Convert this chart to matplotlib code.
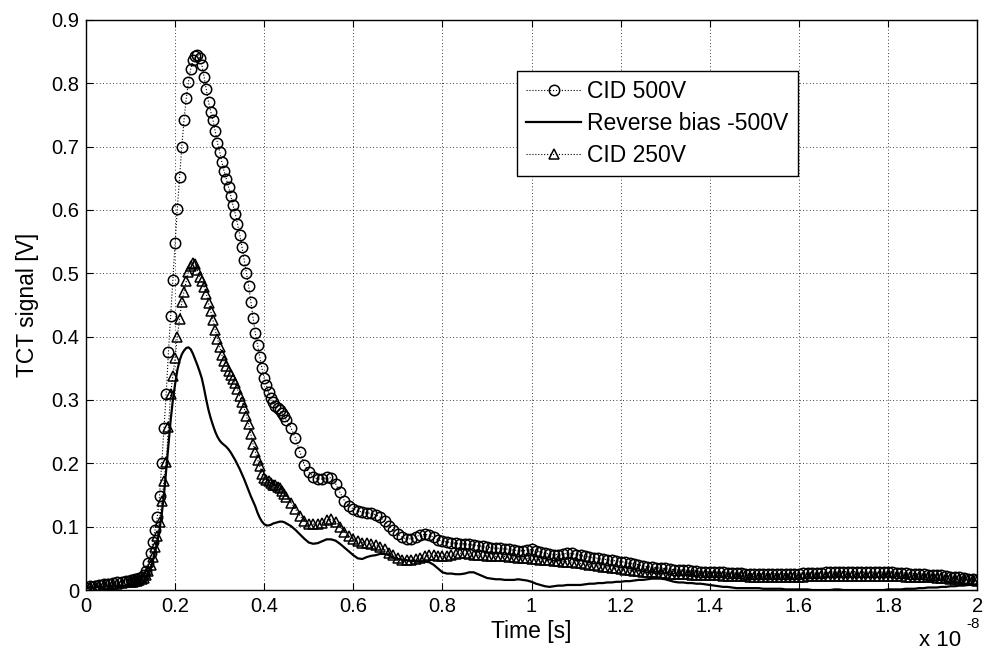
import numpy as np
import matplotlib.pyplot as plt

plt.rcParams['font.family'] = ['Liberation Sans', 'DejaVu Sans']

# time axis, in units of 1e-8 s (finer sampling around the peaks)
t = np.round(np.concatenate([np.arange(10) * 0.01,
                             0.1 + np.arange(70) * 0.005,
                             0.45 + np.arange(156) * 0.01]), 3)

cid500 = [
    0.004, 0.006, 0.007, 0.008, 0.010, 0.010, 0.011, 0.012, 0.013, 0.014,   # 0.00-0.09
    0.016, 0.016, 0.017, 0.018, 0.019, 0.021, 0.024, 0.030, 0.042, 0.058,   # 0.100-0.145
    0.076, 0.095, 0.115, 0.148, 0.200, 0.255, 0.310, 0.375, 0.433, 0.490,   # 0.150-0.195
    0.548, 0.602, 0.652, 0.700, 0.742, 0.776, 0.802, 0.822, 0.836, 0.843,   # 0.200-0.245
    0.845, 0.840, 0.829, 0.810, 0.790, 0.770, 0.755, 0.742, 0.724, 0.706,   # 0.250-0.295
    0.692, 0.675, 0.661, 0.649, 0.636, 0.622, 0.607, 0.594, 0.578, 0.561,   # 0.300-0.345
    0.542, 0.521, 0.500, 0.480, 0.455, 0.430, 0.405, 0.387, 0.368, 0.350,   # 0.350-0.395
    0.334, 0.323, 0.312, 0.303, 0.296, 0.291, 0.287, 0.284, 0.279, 0.274,   # 0.400-0.445
    0.268, 0.256, 0.240, 0.218, 0.198,                                      # 0.45-0.49
    0.186, 0.179, 0.175, 0.175, 0.178, 0.177, 0.168, 0.154, 0.141, 0.133,   # 0.50
    0.128, 0.125, 0.123, 0.122, 0.121, 0.119, 0.115, 0.109, 0.101, 0.094,   # 0.60
    0.088, 0.083, 0.080, 0.081, 0.084, 0.087, 0.088, 0.087, 0.083, 0.079,   # 0.70
    0.077, 0.076, 0.075, 0.074, 0.073, 0.073, 0.072, 0.071, 0.070, 0.069,   # 0.80
    0.068, 0.067, 0.066, 0.066, 0.065, 0.064, 0.063, 0.062, 0.062, 0.063,   # 0.90
    0.064, 0.062, 0.060, 0.058, 0.057, 0.056, 0.056, 0.057, 0.058, 0.058,   # 1.00
    0.056, 0.055, 0.053, 0.052, 0.051, 0.050, 0.049, 0.048, 0.047, 0.046,   # 1.10
    0.045, 0.044, 0.042, 0.041, 0.040, 0.038, 0.037, 0.036, 0.035, 0.034,   # 1.20
    0.034, 0.033, 0.032, 0.032, 0.031, 0.031, 0.030, 0.030, 0.029, 0.029,   # 1.30
    0.029, 0.028, 0.028, 0.028, 0.027, 0.027, 0.027, 0.027, 0.026, 0.026,   # 1.40
    0.026, 0.026, 0.026, 0.026, 0.026, 0.026, 0.026, 0.026, 0.026, 0.026,   # 1.50
    0.026, 0.027, 0.027, 0.027, 0.027, 0.027, 0.028, 0.028, 0.028, 0.028,   # 1.60
    0.029, 0.029, 0.029, 0.029, 0.028, 0.028, 0.028, 0.028, 0.028, 0.028,   # 1.70
    0.028, 0.028, 0.027, 0.027, 0.027, 0.026, 0.026, 0.025, 0.025, 0.024,   # 1.80
    0.024, 0.023, 0.023, 0.022, 0.021, 0.021, 0.020, 0.019, 0.018, 0.017,   # 1.90
    0.016]                                                                  # 2.00

rev500 = [
    0.003, 0.004, 0.004, 0.005, 0.005, 0.006, 0.006, 0.006, 0.007, 0.007,   # 0.00-0.09
    0.008, 0.008, 0.009, 0.009, 0.010, 0.011, 0.013, 0.018, 0.026, 0.035,   # 0.100-0.145
    0.046, 0.060, 0.076, 0.095, 0.120, 0.150, 0.190, 0.230, 0.268, 0.300,   # 0.150-0.195
    0.325, 0.347, 0.362, 0.372, 0.378, 0.382, 0.383, 0.380, 0.373, 0.364,   # 0.200-0.245
    0.355, 0.345, 0.334, 0.318, 0.300, 0.284, 0.271, 0.260, 0.250, 0.242,   # 0.250-0.295
    0.236, 0.232, 0.229, 0.226, 0.222, 0.217, 0.211, 0.205, 0.198, 0.191,   # 0.300-0.345
    0.183, 0.175, 0.166, 0.157, 0.148, 0.140, 0.132, 0.122, 0.114, 0.108,   # 0.350-0.395
    0.104, 0.102, 0.102, 0.103, 0.105, 0.106, 0.107, 0.108, 0.108, 0.107,   # 0.400-0.445
    0.105, 0.101, 0.095, 0.088, 0.081,                                      # 0.45-0.49
    0.075, 0.073, 0.074, 0.077, 0.080, 0.080, 0.078, 0.073, 0.067, 0.061,   # 0.50
    0.055, 0.050, 0.049, 0.052, 0.054, 0.055, 0.057, 0.057, 0.055, 0.051,   # 0.60
    0.049, 0.048, 0.047, 0.046, 0.046, 0.045, 0.045, 0.044, 0.040, 0.034,   # 0.70
    0.028, 0.026, 0.026, 0.025, 0.025, 0.026, 0.028, 0.028, 0.025, 0.022,   # 0.80
    0.019, 0.018, 0.017, 0.017, 0.016, 0.016, 0.016, 0.017, 0.016, 0.015,   # 0.90
    0.013, 0.010, 0.008, 0.006, 0.005, 0.006, 0.007, 0.007, 0.008, 0.008,   # 1.00
    0.008, 0.008, 0.009, 0.010, 0.010, 0.011, 0.011, 0.012, 0.012, 0.013,   # 1.10
    0.013, 0.014, 0.014, 0.015, 0.016, 0.016, 0.017, 0.018, 0.018, 0.018,   # 1.20
    0.017, 0.015, 0.013, 0.012, 0.012, 0.011, 0.011, 0.010, 0.010, 0.009,   # 1.30
    0.008, 0.007, 0.006, 0.005, 0.005, 0.004, 0.003, 0.003, 0.003, 0.003,   # 1.40
    0.003, 0.003, 0.002, 0.002, 0.002, 0.002, 0.002, 0.001, 0.001, 0.001,   # 1.50
    0.001, 0.001, 0.001, 0.000, 0.000, 0.000, 0.000, 0.000, 0.001, 0.001,   # 1.60
    0.000, 0.000, 0.000, 0.000, 0.000, 0.000, 0.000, 0.000, 0.000, 0.000,   # 1.70
    0.001, 0.001, 0.001, 0.001, 0.002, 0.002, 0.002, 0.003, 0.003, 0.004,   # 1.80
    0.004, 0.004, 0.005, 0.005, 0.006, 0.006, 0.007, 0.007, 0.008, 0.008,   # 1.90
    0.009]                                                                  # 2.00

cid250 = [
    0.004, 0.005, 0.006, 0.007, 0.008, 0.009, 0.010, 0.010, 0.011, 0.012,   # 0.00-0.09
    0.013, 0.013, 0.014, 0.015, 0.016, 0.017, 0.019, 0.023, 0.030, 0.040,   # 0.100-0.145
    0.052, 0.068, 0.085, 0.108, 0.140, 0.172, 0.202, 0.258, 0.310, 0.338,   # 0.150-0.195
    0.366, 0.400, 0.428, 0.454, 0.471, 0.487, 0.502, 0.511, 0.516, 0.515,   # 0.200-0.245
    0.505, 0.494, 0.487, 0.479, 0.468, 0.453, 0.440, 0.426, 0.410, 0.397,   # 0.250-0.295
    0.384, 0.371, 0.361, 0.353, 0.346, 0.339, 0.333, 0.326, 0.317, 0.306,   # 0.300-0.345
    0.297, 0.287, 0.275, 0.262, 0.246, 0.230, 0.218, 0.206, 0.195, 0.183,   # 0.350-0.395
    0.177, 0.174, 0.172, 0.169, 0.166, 0.165, 0.163, 0.161, 0.156, 0.151,   # 0.400-0.445
    0.147, 0.138, 0.128, 0.117, 0.109,                                      # 0.45-0.49
    0.105, 0.104, 0.104, 0.106, 0.110, 0.112, 0.108, 0.100, 0.092, 0.085,   # 0.50
    0.080, 0.077, 0.075, 0.074, 0.073, 0.071, 0.068, 0.064, 0.059, 0.055,   # 0.60
    0.051, 0.048, 0.047, 0.047, 0.049, 0.050, 0.053, 0.055, 0.055, 0.054,   # 0.70
    0.053, 0.054, 0.055, 0.057, 0.058, 0.058, 0.057, 0.056, 0.055, 0.055,   # 0.80
    0.054, 0.054, 0.053, 0.053, 0.053, 0.052, 0.052, 0.051, 0.050, 0.050,   # 0.90
    0.049, 0.049, 0.048, 0.047, 0.047, 0.046, 0.046, 0.045, 0.045, 0.044,   # 1.00
    0.043, 0.042, 0.041, 0.040, 0.039, 0.038, 0.037, 0.036, 0.035, 0.034,   # 1.10
    0.033, 0.032, 0.031, 0.030, 0.030, 0.029, 0.029, 0.028, 0.028, 0.027,   # 1.20
    0.027, 0.026, 0.026, 0.025, 0.025, 0.025, 0.024, 0.024, 0.024, 0.024,   # 1.30
    0.023, 0.023, 0.023, 0.022, 0.022, 0.022, 0.022, 0.022, 0.022, 0.021,   # 1.40
    0.021, 0.021, 0.021, 0.021, 0.021, 0.021, 0.021, 0.021, 0.021, 0.021,   # 1.50
    0.021, 0.021, 0.022, 0.022, 0.022, 0.022, 0.022, 0.022, 0.022, 0.022,   # 1.60
    0.022, 0.022, 0.022, 0.022, 0.022, 0.022, 0.022, 0.022, 0.022, 0.022,   # 1.70
    0.022, 0.022, 0.022, 0.022, 0.021, 0.021, 0.021, 0.021, 0.020, 0.020,   # 1.80
    0.020, 0.019, 0.019, 0.019, 0.018, 0.018, 0.017, 0.017, 0.016, 0.016,   # 1.90
    0.015]                                                                  # 2.00

x_ticks = [0, 0.2, 0.4, 0.6, 0.8, 1.0, 1.2, 1.4, 1.6, 1.8, 2.0]
x_labels = ['0', '0.2', '0.4', '0.6', '0.8', '1', '1.2', '1.4', '1.6', '1.8', '2']
y_ticks = [0, 0.1, 0.2, 0.3, 0.4, 0.5, 0.6, 0.7, 0.8, 0.9]
y_labels = ['0', '0.1', '0.2', '0.3', '0.4', '0.5', '0.6', '0.7', '0.8', '0.9']

fig = plt.figure(figsize=(9.85, 6.6), dpi=100)
ax = fig.add_axes([0.0873, 0.106, 0.9047, 0.864])

ax.plot(t, cid500, ls=':', color='k', lw=0.8, marker='o', ms=7.5,
        mfc='none', mec='k', mew=1.1, label='CID 500V')
ax.plot(t, rev500, ls='-', color='k', lw=1.6, label='Reverse bias -500V')
ax.plot(t, cid250, ls=':', color='k', lw=0.8, marker='^', ms=7.5,
        mfc='none', mec='k', mew=1.1, label='CID 250V')

ax.set_xlim(0, 2)
ax.set_ylim(0, 0.9)
ax.set_xticks(x_ticks)
ax.set_xticklabels(x_labels)
ax.set_yticks(y_ticks)
ax.set_yticklabels(y_labels)
ax.tick_params(direction='in', top=True, right=True, length=5, labelsize=14.5, pad=5)
ax.grid(True, color='k', linestyle=(0, (1, 3)), linewidth=0.6)
ax.set_axisbelow(True)
for s in ax.spines.values():
    s.set_linewidth(1.0)

ax.set_xlabel('Time [s]', fontsize=16.5, labelpad=3)
ax.set_ylabel('TCT signal [V]', fontsize=16.5, labelpad=9)
fig.text(0.933, 0.014, 'x 10', fontsize=16, va='bottom')
fig.text(0.981, 0.044, '-8', fontsize=11, va='bottom')

leg = ax.legend(loc='upper left', bbox_to_anchor=(0.484, 0.911), fontsize=16.5,
                fancybox=False, edgecolor='k', framealpha=1, numpoints=1,
                handlelength=2.4, borderpad=0.4, labelspacing=0.4,
                handletextpad=0.25, borderaxespad=0)
leg.get_frame().set_linewidth(1.0)

fig.savefig('out.png', dpi=100)
